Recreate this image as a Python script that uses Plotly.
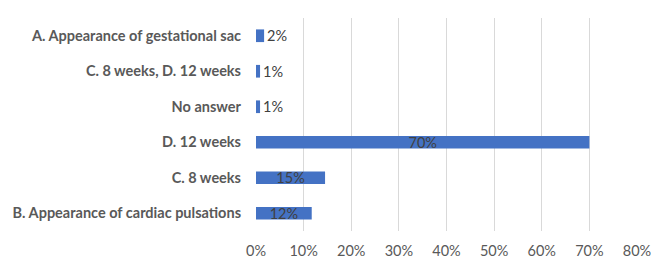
import plotly.graph_objects as go

categories = [
    "A. Appearance of gestational sac",
    "C. 8 weeks, D. 12 weeks",
    "No answer",
    "D. 12 weeks",
    "C. 8 weeks",
    "B. Appearance of cardiac pulsations",
]
values = [0.017, 0.0085, 0.0085, 0.70, 0.145, 0.117]
value_labels = ["2%", "1%", "1%", "70%", "15%", "12%"]
label_positions = ["outside", "outside", "outside", "inside", "inside", "inside"]
x_tickvals = [0, 0.1, 0.2, 0.3, 0.4, 0.5, 0.6, 0.7, 0.8]

FONT = "Lato, 'Open Sans', sans-serif"
FS = 14.5

fig = go.Figure(
    go.Bar(
        x=values,
        y=categories,
        orientation="h",
        marker=dict(color="#4472C4", line=dict(width=0)),
        text=value_labels,
        textposition=label_positions,
        insidetextanchor="middle",
        textfont=dict(family=FONT, size=FS, color="#404040"),
        cliponaxis=False,
        hoverinfo="skip",
    )
)

fig.update_layout(
    width=651,
    height=259,
    margin=dict(l=256, r=14, t=18, b=28),
    paper_bgcolor="white",
    plot_bgcolor="white",
    bargap=0.643,
    showlegend=False,
    uniformtext=dict(minsize=FS, mode="show"),
    font=dict(family=FONT, size=FS, color="#595959"),
)
fig.update_xaxes(
    range=[0, 0.8],
    tickvals=x_tickvals,
    tickformat=".0%",
    showgrid=True,
    gridcolor="#d9d9d9",
    gridwidth=1,
    zeroline=False,
    showline=False,
    ticks="",
    automargin=False,
    ticklabeloverflow="allow",
    ticklabelstandoff=9,
    tickfont=dict(family=FONT, size=FS, color="#595959"),
)
fig.update_yaxes(
    autorange="reversed",
    showgrid=False,
    zeroline=False,
    showline=False,
    ticks="",
    automargin=False,
    ticklabeloverflow="allow",
    ticklabelstandoff=14,
    tickfont=dict(family=FONT, size=FS, color="#595959", weight="bold"),
)

# remove the default 8px page margin so the 651x259 figure fills the window exactly
fig.write_html(
    "out.html",
    config={"displayModeBar": False},
    post_script="document.body.style.margin='0';document.body.style.overflow='hidden';",
)
